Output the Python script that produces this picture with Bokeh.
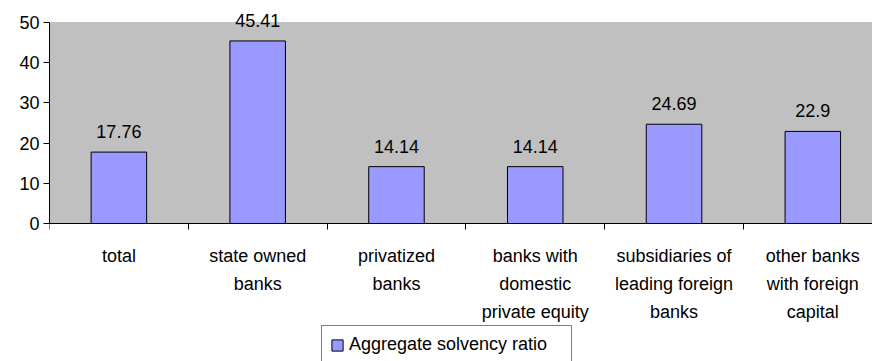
from bokeh.plotting import figure
from bokeh.models import (ColumnDataSource, Range1d, FixedTicker, LabelSet,
                          Legend, LegendItem, BoxAnnotation)
from bokeh.core.properties import value
from bokeh.embed import file_html
from bokeh.resources import INLINE

categories = ["total", "state owned\nbanks", "privatized\nbanks",
              "banks with\ndomestic\nprivate equity",
              "subsidiaries of\nleading foreign\nbanks",
              "other banks\nwith foreign\ncapital"]
values = [17.76, 45.41, 14.14, 14.14, 24.69, 22.9]
value_labels = ["17.76", "45.41", "14.14", "14.14", "24.69", "22.9"]
y_ticks = [0, 10, 20, 30, 40, 50]
series_name = "Aggregate solvency ratio"

FONT = "Liberation Sans"
positions = [i + 0.5 for i in range(len(categories))]
boundaries = list(range(len(categories) + 1))
y_max = y_ticks[-1]

src = ColumnDataSource(dict(x=positions, top=values, lab=value_labels))

# frame covers the whole canvas below the top margin; the gray plot area is 0..50
p = figure(width=872, height=361, frame_width=823, frame_height=353,
           x_range=Range1d(0, 5.93), y_range=Range1d(-34.33, 53.48),
           output_backend="svg", toolbar_location=None,
           min_border_left=49, min_border_top=8, min_border_right=0,
           min_border_bottom=0)
p.background_fill_color = "white"
p.border_fill_color = "white"
p.outline_line_color = None

plot_area = BoxAnnotation(bottom=0, top=y_max, left=0, right=7,
                          fill_color="#C0C0C0", fill_alpha=1,
                          line_color="#808080", line_width=1,
                          level="underlay")
p.add_layout(plot_area)

bars = p.vbar(x="x", top="top", width=0.4, source=src,
              fill_color="#9999FF", line_color="black", line_width=1)

labels = LabelSet(x="x", y="top", text="lab", source=src,
                  text_align="center", text_baseline="alphabetic",
                  y_offset=14, text_font=value(FONT), text_font_size="18px",
                  text_color="black")
p.add_layout(labels)

# y axis
p.yaxis.ticker = FixedTicker(ticks=y_ticks)
p.yaxis.bounds = (0, y_max)
p.yaxis.axis_line_color = "black"
p.yaxis.major_tick_line_color = "black"
p.yaxis.major_tick_out = 6
p.yaxis.major_tick_in = 0
p.yaxis.minor_tick_line_color = None
p.yaxis.major_label_text_font = FONT
p.yaxis.major_label_text_font_size = "18px"
p.yaxis.major_label_text_color = "black"
p.yaxis.major_label_standoff = 4

p.ygrid.ticker = FixedTicker(ticks=y_ticks[1:-1])
p.ygrid.grid_line_color = "black"
p.ygrid.grid_line_width = 1
p.xgrid.grid_line_color = None

# x axis, pinned at y = 0
p.xaxis.fixed_location = 0
p.xaxis.ticker = FixedTicker(ticks=positions, minor_ticks=boundaries)
p.xaxis.major_label_overrides = {pos: lab for pos, lab in zip(positions, categories)}
p.xaxis.axis_line_color = "black"
p.xaxis.major_tick_line_color = None
p.xaxis.major_tick_out = 6
p.xaxis.major_tick_in = 0
p.xaxis.minor_tick_line_color = "black"
p.xaxis.minor_tick_out = 6
p.xaxis.minor_tick_in = 0
p.xaxis.major_label_text_font = FONT
p.xaxis.major_label_text_font_size = "18px"
p.xaxis.major_label_text_color = "black"
p.xaxis.major_label_text_line_height = 1.38
p.xaxis.major_label_standoff = 17

legend = Legend(items=[LegendItem(label=series_name, renderers=[bars])],
                location=(272, -3), orientation="horizontal",
                border_line_color="black", border_line_width=1,
                background_fill_color="white", background_fill_alpha=1,
                label_text_font=FONT, label_text_font_size="18px",
                label_text_color="black", glyph_width=14, glyph_height=14,
                label_standoff=5, label_width=214, padding=8, margin=0,
                spacing=0)
p.add_layout(legend, "center")

open("out.html", "w").write(file_html(p, INLINE))
